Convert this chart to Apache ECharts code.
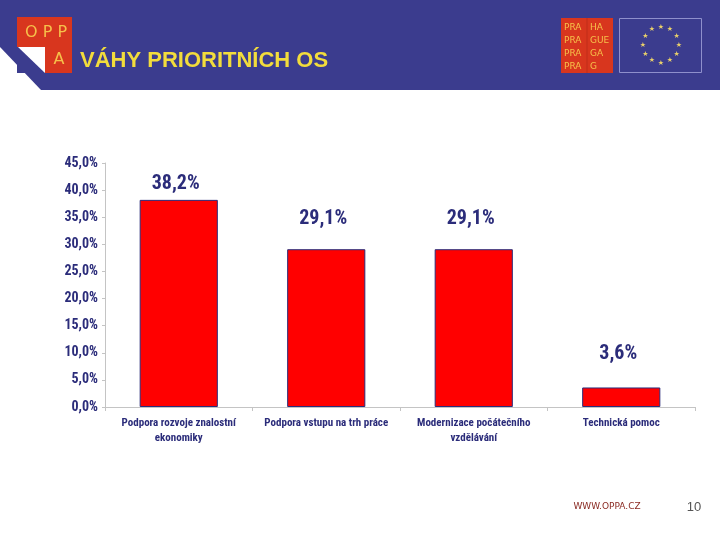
<!DOCTYPE html>
<html>
<head>
<meta charset="utf-8">
<script src="https://cdn.jsdelivr.net/npm/echarts@6/dist/echarts.min.js"></script>
<style>
  html, body { margin: 0; padding: 0; background: #ffffff; }
  #chart { width: 720px; height: 540px; }
</style>
</head>
<body>
<div id="chart"></div>
<script>
// data
const categories = [
  'Podpora rozvoje znalostní\nekonomiky',
  'Podpora vstupu na trh práce',
  'Modernizace počátečního\nvzdělávání',
  'Technická pomoc'
];
const weights = [38.2, 29.1, 29.1, 3.6];
const labelGaps = [6, 20, 20, 23];

const navy = '#2b2c7a';
const headerBlue = '#3b3c8e';
const logoRed = '#d8361e';
// Roboto se zúženou šířkou (náhrada za Arial Narrow)
const narrowFamily = 'Roboto, sans-serif';
const narrowWeight = 'bold condensed';

const fmtPct = (v) => v.toFixed(1).replace('.', ',') + '%';

// hvězdy vlajky EU
const euStars = [];
for (let i = 0; i < 12; i++) {
  const a = i * Math.PI / 6;
  euStars.push({
    type: 'text',
    x: 661 + 18 * Math.sin(a),
    y: 45 - 18 * Math.cos(a),
    style: {
      text: '★', fill: '#e9d06a', fontSize: 7,
      fontFamily: 'DejaVu Sans', align: 'center', verticalAlign: 'middle'
    }
  });
}

const myChart = echarts.init(document.getElementById('chart'));

const option = {
  backgroundColor: '#ffffff',
  animation: false,
  grid: { left: 105, right: 25, top: 163, bottom: 133 },
  xAxis: {
    type: 'category',
    data: categories,
    axisLine: { lineStyle: { color: '#c4c4c4', width: 1 } },
    axisTick: { show: true, length: 4, lineStyle: { color: '#c4c4c4' } },
    axisLabel: {
      color: navy,
      fontFamily: narrowFamily,
      fontWeight: narrowWeight,
      fontSize: 11,
      lineHeight: 15,
      margin: 9,
      interval: 0
    }
  },
  yAxis: {
    type: 'value',
    min: 0,
    max: 45,
    interval: 5,
    splitLine: { show: false },
    axisLine: { show: true, lineStyle: { color: '#c4c4c4', width: 1 } },
    axisTick: { show: true, length: 3, lineStyle: { color: '#c4c4c4' } },
    axisLabel: {
      color: navy,
      fontFamily: narrowFamily,
      fontWeight: narrowWeight,
      fontSize: 14,
      margin: 7,
      formatter: fmtPct
    }
  },
  series: [{
    type: 'bar',
    barWidth: '53%',
    data: weights.map((v, i) => ({
      value: v,
      label: { distance: labelGaps[i] }
    })),
    itemStyle: { color: '#ff0000', borderColor: '#2b2c7a', borderWidth: 1 },
    label: {
      show: true,
      position: 'top',
      offset: [-3, 0],
      color: navy,
      fontFamily: narrowFamily,
      fontWeight: narrowWeight,
      fontSize: 20,
      formatter: (p) => fmtPct(p.value)
    }
  }],
  graphic: [
    // záhlaví
    { type: 'rect', shape: { x: 0, y: 0, width: 720, height: 90 }, style: { fill: headerBlue } },
    { type: 'polygon', shape: { points: [[0, 47], [41, 90], [0, 90]] }, style: { fill: '#ffffff' } },
    // logo OPPA
    { type: 'rect', shape: { x: 17, y: 17, width: 55, height: 56 }, style: { fill: logoRed } },
    { type: 'rect', shape: { x: 17, y: 47, width: 28, height: 26 }, style: { fill: headerBlue } },
    { type: 'polygon', shape: { points: [[18, 47], [45, 47], [45, 73]] }, style: { fill: '#ffffff' } },
    {
      type: 'text', x: 46, y: 33,
      style: { text: 'O P P', fill: '#f6c04a', fontSize: 16, fontFamily: 'DejaVu Sans', align: 'center', verticalAlign: 'middle' }
    },
    {
      type: 'text', x: 59, y: 60,
      style: { text: 'A', fill: '#f6c04a', fontSize: 16, fontFamily: 'DejaVu Sans', align: 'center', verticalAlign: 'middle' }
    },
    {
      type: 'text', x: 80, y: 61,
      style: { text: 'VÁHY PRIORITNÍCH OS', fill: '#f2dc3c', fontSize: 22, fontWeight: 'bold', fontFamily: '"Liberation Sans", Arial, sans-serif', verticalAlign: 'middle' }
    },
    // logo Praha
    { type: 'rect', shape: { x: 561, y: 18, width: 52, height: 55 }, style: { fill: logoRed } },
    { type: 'line', shape: { x1: 587, y1: 18, x2: 587, y2: 73 }, style: { stroke: '#c02c18', lineWidth: 1 } },
    {
      type: 'text', x: 564, y: 47,
      style: { text: 'PRA\nPRA\nPRA\nPRA', fill: '#f6c04a', fontSize: 9, lineHeight: 13, fontFamily: 'DejaVu Sans', verticalAlign: 'middle' }
    },
    {
      type: 'text', x: 590, y: 47,
      style: { text: 'HA\nGUE\nGA\nG', fill: '#f6c04a', fontSize: 9, lineHeight: 13, fontFamily: 'DejaVu Sans', verticalAlign: 'middle' }
    },
    // vlajka EU
    { type: 'rect', shape: { x: 619.5, y: 18.5, width: 82, height: 54 }, style: { fill: 'none', stroke: '#8f90cc', lineWidth: 1 } },
    ...euStars,
    // zápatí
    {
      type: 'text', x: 607, y: 507,
      style: { text: 'WWW.OPPA.CZ', fill: '#8a2a22', fontSize: 9, fontFamily: '"DejaVu Sans", sans-serif', align: 'center', verticalAlign: 'middle' }
    },
    {
      type: 'text', x: 694, y: 507,
      style: { text: '10', fill: '#555555', fontSize: 13, fontFamily: '"Liberation Sans", Arial, sans-serif', align: 'center', verticalAlign: 'middle' }
    }
  ]
};

myChart.setOption(option);
</script>
</body>
</html>
